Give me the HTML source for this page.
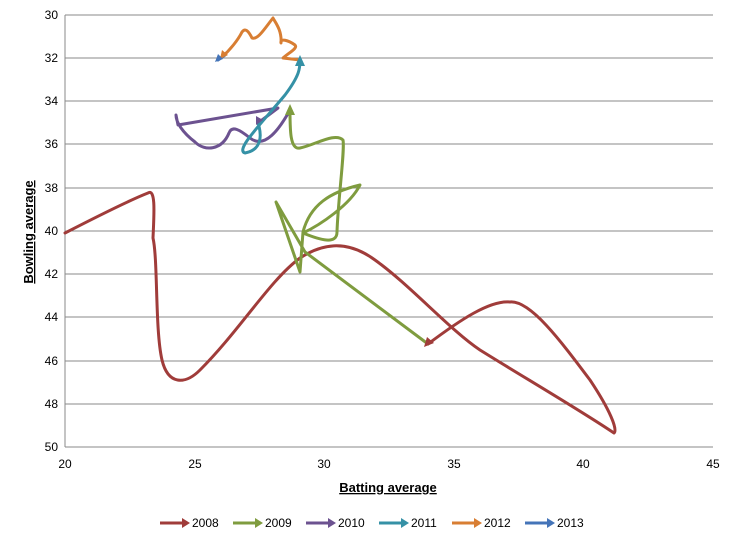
<html><body style="margin:0;background:#fff">
<svg width="738" height="547" xmlns="http://www.w3.org/2000/svg" font-family="Liberation Sans, sans-serif">
<defs>
<marker id="a1" markerWidth="6" markerHeight="6" refX="5" refY="3" orient="auto" markerUnits="userSpaceOnUse" viewBox="0 0 6 6"><path d="M0,0L6,3L0,6z" fill="#a03c3a"/></marker>
</defs>
<g stroke="#8a8a8a" stroke-width="1">
<line x1="65" y1="15" x2="713" y2="15"/><line x1="65" y1="58" x2="713" y2="58"/><line x1="65" y1="101" x2="713" y2="101"/><line x1="65" y1="144" x2="713" y2="144"/><line x1="65" y1="188" x2="713" y2="188"/><line x1="65" y1="231" x2="713" y2="231"/><line x1="65" y1="274" x2="713" y2="274"/><line x1="65" y1="317" x2="713" y2="317"/><line x1="65" y1="361" x2="713" y2="361"/><line x1="65" y1="404" x2="713" y2="404"/><line x1="65" y1="447" x2="713" y2="447"/>
<line x1="65" y1="15" x2="65" y2="447"/>
</g>
<g font-size="12" fill="#000" text-anchor="end">
<text x="58" y="19">30</text><text x="58" y="62">32</text><text x="58" y="105">34</text><text x="58" y="148">36</text><text x="58" y="192">38</text><text x="58" y="235">40</text><text x="58" y="278">42</text><text x="58" y="321">44</text><text x="58" y="365">46</text><text x="58" y="408">48</text><text x="58" y="451">50</text>
</g>
<g font-size="12" text-anchor="middle">
<text x="65" y="468">20</text><text x="195" y="468">25</text><text x="324" y="468">30</text><text x="454" y="468">35</text><text x="583" y="468">40</text><text x="713" y="468">45</text>
</g>
<text x="388" y="492" font-size="13" font-weight="bold" text-anchor="middle" text-decoration="underline">Batting average</text>
<text transform="translate(33,232) rotate(-90)" font-size="13" font-weight="bold" text-anchor="middle" text-decoration="underline">Bowling average</text>
<g fill="none" stroke-width="3" stroke-linejoin="round" stroke-linecap="round">
<path stroke="#a03c3a" d="M65,233 C100,215 130,200 148,193 C156,188 154,215 153,238 C158,260 155,330 162,360 C168,385 185,385 200,370 C240,330 270,280 300,258 C320,245 345,238 375,260 C410,285 450,330 480,350 C520,375 580,410 614,433 C618,430 610,410 590,380 C560,340 530,300 510,302 C490,300 460,320 428,344"/>
<path stroke="#7f9c3f" d="M428,344 L305,252 L276,202 L300,272 L303,232 C310,205 330,192 360,185 C350,205 320,225 303,233 C320,240 337,245 337,232 C338,200 345,150 343,140 C335,132 315,145 300,148 C290,150 290,130 290,110"/>
<path stroke="#6c5290" d="M290,110 C280,128 265,150 250,138 C240,130 232,125 229,133 C222,150 205,152 195,142 C182,132 176,122 176,115 L178,125 L278,108 L258,123"/>
<path stroke="#3591a6" d="M258,123 C262,135 262,150 245,153 C235,150 260,125 285,95 C300,75 300,68 300,60"/>
<path stroke="#d87e33" d="M300,60 L283,58 C290,52 298,48 295,45 C288,40 280,38 281,43 C282,30 275,22 273,18 C265,28 258,40 252,38 C248,30 245,28 242,32 C238,40 230,50 222,57"/>
<path stroke="#4474b8" d="M225,55 L218,60"/>
</g>
<g stroke="none">
<path fill="#a03c3a" d="M424,347 L427,337 L434,343z"/>
<path fill="#7f9c3f" d="M290,104 L285,115 L295,115z"/>
<path fill="#6c5290" d="M256,125 L256,116 L263,120z"/>
<path fill="#3591a6" d="M300,55 L295,66 L305,66z"/>
<path fill="#d87e33" d="M220,59 L222,50 L228,55z"/>
<path fill="#4474b8" d="M215,62 L218,54 L223,59z"/>
</g>
<g font-size="12" stroke-width="3">
<line x1="160" y1="523" x2="182" y2="523" stroke="#a03c3a"/><path d="M182,518L190,523L182,528z" fill="#a03c3a"/><text x="192" y="527">2008</text>
<line x1="233" y1="523" x2="255" y2="523" stroke="#7f9c3f"/><path d="M255,518L263,523L255,528z" fill="#7f9c3f"/><text x="265" y="527">2009</text>
<line x1="306" y1="523" x2="328" y2="523" stroke="#6c5290"/><path d="M328,518L336,523L328,528z" fill="#6c5290"/><text x="338" y="527">2010</text>
<line x1="379" y1="523" x2="401" y2="523" stroke="#3591a6"/><path d="M401,518L409,523L401,528z" fill="#3591a6"/><text x="411" y="527">2011</text>
<line x1="452" y1="523" x2="474" y2="523" stroke="#d87e33"/><path d="M474,518L482,523L474,528z" fill="#d87e33"/><text x="484" y="527">2012</text>
<line x1="525" y1="523" x2="547" y2="523" stroke="#4474b8"/><path d="M547,518L555,523L547,528z" fill="#4474b8"/><text x="557" y="527">2013</text>
</g>
</svg>
</body></html>
